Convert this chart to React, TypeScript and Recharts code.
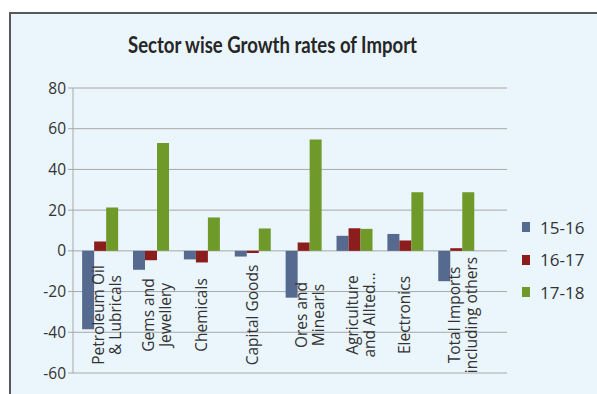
import React from 'react';
import { BarChart, Bar, XAxis, YAxis, CartesianGrid, Legend } from 'recharts';

const categories = [
  'Petroleum Oil\n& Lubricals',
  'Gems and\nJewellery',
  'Chemicals',
  'Capital Goods',
  'Ores and\nMinearls',
  'Agriculture\nand Allted...',
  'Electronics',
  'Total Imports\nincluding others',
];
const growth1516 = [-38.5, -9.3, -4.2, -2.8, -23, 7.4, 8.3, -14.9];
const growth1617 = [4.6, -4.6, -5.7, -1.1, 4.1, 11.1, 5.1, 1.3];
const growth1718 = [21.3, 53, 16.4, 11, 54.7, 10.8, 28.8, 28.8];
const yTicks = [-60, -40, -20, 0, 20, 40, 60, 80];
const seriesNames = ['15-16', '16-17', '17-18'];
const colors = ['#56698f', '#8c1d1d', '#6f9a2a'];

const data = categories.map((name, i) => ({
  name,
  a: growth1516[i],
  b: growth1617[i],
  c: growth1718[i],
}));

const FONT = "'Open Sans', sans-serif";

const CatTick = (props: any) => {
  const { x, payload } = props;
  const lines: string[] = String(payload.value).split('\n');
  const midY = 315;
  const fs = 15.5;
  const lh = 17;
  const cx = x + (lines.length - 1) * 7;
  return (
    <g>
      {lines.map((ln, i) => {
        const center = cx + (i - (lines.length - 1) / 2) * lh;
        const px = center + fs * 0.36;
        return (
          <text
            key={i}
            x={px}
            y={midY}
            transform={`rotate(-90, ${px}, ${midY})`}
            textAnchor="middle"
            fontFamily={FONT}
            fontSize={fs}
            fill="#333"
          >
            {ln}
          </text>
        );
      })}
    </g>
  );
};

const LegendContent = () => (
  <div style={{ fontFamily: FONT, fontSize: 17, color: '#333' }}>
    {seriesNames.map((s, i) => (
      <div key={s} style={{ display: 'flex', alignItems: 'center', height: 32.5 }}>
        <div style={{ width: 8, height: 10, background: colors[i], marginRight: 10 }} />
        <span>{s}</span>
      </div>
    ))}
  </div>
);

export default function App() {
  return (
    <div style={{ position: 'absolute', left: 0, top: 0, width: 597, height: 394, background: '#fff', overflow: 'hidden' }}>
      <div
        style={{
          position: 'absolute',
          left: 9,
          top: 12,
          width: 620,
          height: 420,
          background: '#eaf5fc',
          borderTop: '2px solid #595959',
          borderLeft: '2px solid #595959',
        }}
      />
      <svg width={597} height={394} style={{ position: 'absolute', left: 0, top: 0 }}>
        <text
          x={272.5}
          y={52.5}
          textAnchor="middle"
          fontFamily="Lato, sans-serif"
          fontWeight="bold"
          fontSize={22}
          fill="#262626"
          textLength={289}
          lengthAdjust="spacingAndGlyphs"
        >
          Sector wise Growth rates of Import
        </text>
      </svg>
      <div style={{ position: 'absolute', left: 0, top: 0 }}>
        <BarChart
          width={597}
          height={394}
          data={data}
          margin={{ top: 88, right: 90, bottom: 1, left: 13 }}
          barCategoryGap="16%"
          barGap={0}
        >
          <CartesianGrid vertical={false} stroke="#a8a8a8" strokeWidth={1} />
          <XAxis
            dataKey="name"
            axisLine={false}
            tickLine={false}
            height={20}
            interval={0}
            tick={<CatTick />}
            padding={{ left: 1, right: 26 }}
          />
          <YAxis
            width={60}
            domain={[-60, 80]}
            ticks={yTicks}
            interval={0}
            axisLine={{ stroke: '#a8a8a8' }}
            tickLine={{ stroke: '#a8a8a8' }}
            tickSize={5}
            tick={{ fontFamily: FONT, fontSize: 15.5, fill: '#333' }}
          />
          <Legend
            layout="vertical"
            verticalAlign="middle"
            align="center"
            content={<LegendContent />}
            wrapperStyle={{ left: 522, top: 211, width: 70 }}
          />
          <Bar dataKey="a" name={seriesNames[0]} fill={colors[0]} isAnimationActive={false} />
          <Bar dataKey="b" name={seriesNames[1]} fill={colors[1]} isAnimationActive={false} />
          <Bar dataKey="c" name={seriesNames[2]} fill={colors[2]} isAnimationActive={false} />
        </BarChart>
      </div>
    </div>
  );
}
